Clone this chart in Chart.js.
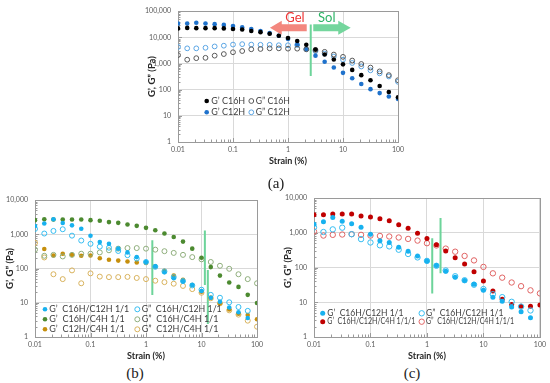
<!DOCTYPE html>
<html>
<head>
<meta charset="utf-8">
<script src="https://cdn.jsdelivr.net/npm/chart.js@4.4.1/dist/chart.umd.min.js"></script>
<style>
  html, body { margin: 0; padding: 0; background: #fff; }
  body { width: 550px; height: 383px; position: relative; overflow: hidden; }
  canvas { position: absolute; }
  .cap { position: absolute; font-family: 'Liberation Serif', serif; font-size: 15px; color: #222; transform: translate(-50%, -50%); }
</style>
</head>
<body>
<canvas id="chartA" width="270" height="166" style="left:140px;top:0px"></canvas>
<canvas id="chartB" width="270" height="176" style="left:0px;top:185px"></canvas>
<canvas id="chartC" width="275" height="176" style="left:275px;top:185px"></canvas>
<div class="cap" style="left:276px;top:183px">(a)</div>
<div class="cap" style="left:135px;top:373px">(b)</div>
<div class="cap" style="left:412px;top:373px">(c)</div>
<script>
// strain sweep (%), 6 points per decade
const strain = [0.01, 0.0147, 0.0215, 0.0316, 0.0464, 0.0681, 0.1, 0.147, 0.215, 0.316, 0.464, 0.681,
  1, 1.47, 2.15, 3.16, 4.64, 6.81, 10, 14.7, 21.5, 31.6, 46.4, 68.1, 100];
const xTickVals = [0.01, 0.1, 1, 10, 100];
const xTickLabels = ['0.01', '0.1', '1', '10', '100'];
const yTicksA = [1, 10, 100, 1000, 10000, 100000];
const yTicksBC = [1, 10, 100, 1000, 10000];

// (a) single gels
const gpC16 = [22000, 23000, 22500, 22500, 22500, 22000, 21000, 20000, 17500, 15800, 13700, 11500, 9500, 7300, 5200, 3400, 2200, 1420, 930, 570, 360, 230, 138, 82, 51];
const gppC16 = [2100, 1400, 1600, 1650, 2000, 2300, 2700, 3000, 3500, 3600, 3800, 3800, 3700, 3700, 3500, 3300, 2800, 2200, 1800, 1300, 960, 700, 500, 360, 230];
const gpC12 = [34000, 34000, 36000, 34000, 32000, 30000, 27000, 24000, 21000, 17500, 14500, 11500, 8700, 5200, 3600, 2000, 1170, 700, 440, 272, 165, 105, 74, 55, 44];
const gppC12 = [4300, 3800, 3800, 4000, 4500, 4800, 5300, 5500, 5300, 5200, 5200, 5000, 5000, 5100, 3500, 3000, 2400, 1850, 1400, 1050, 770, 550, 420, 320, 200];

// (b), (c) mixtures
const gpC16C12 = [1750, 2070, 2750, 2130, 1820, 1450, 900, 590, 525, 380, 295, 215, 155, 115, 78, 52, 42, 33, 22, 14, 10.7, 7.3, 5.3, 3.6, null];
const gppC16C12 = [1430, 1050, 1250, 1400, 910, 655, 525, 435, 405, 325, 245, 195, 155, 112, 82, 56, 43, 32, 24, 17, 14, 10.3, 7.5, 5.8, null];
const gpC16C4 = [2580, 2750, 2700, 2700, 2700, 2700, 2580, 2470, 2260, 2150, 1920, 1760, 1540, 1310, 1050, 830, 610, 380, 205, 110, 62, 39, 29, 17, 9.8];
const gppC16C4 = [355, 235, 250, 225, 250, 270, 270, 295, 340, 380, 395, 395, 380, 355, 320, 285, 250, 215, 185, 155, 120, 98, 68, 49, 37];
const gpC12C4 = [null, 370, 240, 270, 250, 235, 240, 200, 180, 170, 160, 150, 145, 115, 86, 62, 47, 33, 21, 14, 9.6, 6.4, 4.8, 4.4, 3.3];
const gppC12C4 = [560, 210, 68, 49, 88, 37, 72, 58, 56, 56, 57, 53, 49, 44, 40, 36, 31, 25, 19.6, 13.5, 9.6, 6.0, 4.5, 3.0, 2.0];
const gpC16C12C4 = [3300, 3300, 3450, 3450, 3450, 3020, 2820, 2530, 2220, 1690, 1350, 970, 680, 450, 300, 190, 126, 76, 41, 21, 12.2, 8.6, 7.7, 7.7, 8.3];
const gppC16C12C4 = [1090, 830, 870, 890, 910, 870, 830, 810, 780, 730, 665, 595, 500, 430, 350, 285, 215, 160, 104, 68, 51, 37, 29, 22, 18];

// gel-sol transition markers: [strain, top, bottom]
const markA = [[2.59, 31100, 330]];
const markB = [[1.30, 667, 16.8], [11.5, 1280, 33], [13.0, 91, 2.4]];
const markC = [[1.24, 697, 17.9], [1.74, 2640, 68]];
// arrows in (a): [tail, head base, tip] strain values
const gelArrow = [2.19, 0.77, 0.47];
const solArrow = [2.88, 8.2, 13.8];
const arrowLevel = 23500;
const arrowTextLevel = 56000;
const gelTextX = 1.34;
const solTextX = 5.06;

const FONT = 'Lato, sans-serif';

function series(vals) {
  return strain.map((x, i) => ({ x, y: vals[i] })).filter((p) => p.y != null);
}
function filled(label, vals, color, r) {
  return { label, data: series(vals), backgroundColor: color, borderColor: color, pointRadius: r, pointBorderWidth: 0, pointHoverRadius: r };
}
function hollow(label, vals, color, r) {
  return { label, data: series(vals), backgroundColor: 'rgba(0,0,0,0)', borderColor: color, pointRadius: r, pointBorderWidth: 1, pointHoverRadius: r };
}
function vline(m) {
  return { label: '', data: [{ x: m[0], y: m[1] }, { x: m[0], y: m[2] }], showLine: true, borderColor: '#6dd49a', borderWidth: 2, pointRadius: 0 };
}

function scalesFor(yTicks, yWidth, titlePad) {
  return {
    x: {
      type: 'logarithmic', min: 0.01, max: 100,
      afterBuildTicks: (s) => { s.ticks = xTickVals.map((v) => ({ value: v })); },
      afterFit: (s) => { s.height = 24; },
      ticks: { callback: (v, i) => xTickLabels[i], font: { family: FONT, size: 7 }, color: '#595959', padding: 4, maxRotation: 0, autoSkip: false },
      grid: { color: '#d9d9d9', drawTicks: false },
      border: { display: false },
      title: { display: true, text: 'Strain (%)', font: { family: FONT, size: 9, weight: 'bold' }, color: '#262626', padding: 0 },
    },
    y: {
      type: 'logarithmic', min: yTicks[0], max: yTicks[yTicks.length - 1],
      afterBuildTicks: (s) => { s.ticks = yTicks.map((v) => ({ value: v })); },
      afterFit: (s) => { s.width = yWidth; },
      ticks: { callback: (v) => Number(v).toLocaleString('en-US'), font: { family: FONT, size: 7 }, color: '#595959', padding: 7, autoSkip: false },
      grid: { color: '#d9d9d9', drawTicks: false },
      border: { display: false },
      title: { display: true, text: 'G\u2019, G\u201D (Pa)', font: { family: FONT, size: 9.5, weight: 'bold' }, color: '#262626', padding: { top: titlePad, bottom: 0 } },
    },
  };
}

// frame and inner minor ticks
const framePlugin = {
  id: 'frame',
  beforeDatasetsDraw(chart) {
    const { ctx, chartArea: a, scales } = chart;
    ctx.save();
    ctx.strokeStyle = '#9a9a9a';
    ctx.lineWidth = 1;
    ctx.strokeRect(Math.round(a.left) + 0.5, Math.round(a.top) + 0.5, Math.round(a.right - a.left), Math.round(a.bottom - a.top));
    ctx.beginPath();
    [scales.x, scales.y].forEach((s) => {
      const lo = Math.round(Math.log10(s.min));
      const hi = Math.round(Math.log10(s.max));
      for (let d = lo; d < hi; d++) {
        for (let k = 1; k <= 9; k++) {
          const len = k === 1 ? 4 : 2.5;
          const p = Math.round(s.getPixelForValue(k * Math.pow(10, d))) + 0.5;
          if (s.axis === 'x') { ctx.moveTo(p, a.bottom); ctx.lineTo(p, a.bottom - len); }
          else { ctx.moveTo(a.left, p); ctx.lineTo(a.left + len, p); }
        }
      }
    });
    ctx.stroke();
    ctx.restore();
  },
};

// legend placed inside the plot
const inLegend = {
  id: 'inLegend',
  afterDatasetsDraw(chart, args, opts) {
    if (!opts.items) return;
    const ctx = chart.ctx;
    ctx.save();
    ctx.font = opts.size + 'px ' + FONT;
    ctx.textBaseline = 'middle';
    opts.items.forEach((it) => {
      const ds = chart.data.datasets[it.ds];
      ctx.beginPath();
      ctx.arc(it.x, it.y, ds.pointRadius, 0, Math.PI * 2);
      if (ds.pointBorderWidth > 0) {
        ctx.strokeStyle = ds.borderColor; ctx.lineWidth = 1; ctx.stroke();
      } else {
        ctx.fillStyle = ds.backgroundColor; ctx.fill();
      }
      ctx.fillStyle = '#404040';
      ctx.fillText(ds.label, it.x + it.gap, it.y, opts.maxWidth);
    });
    ctx.restore();
  },
};

function drawArrow(ctx, xs, ys, arr, y, color) {
  const tail = xs.getPixelForValue(arr[0]);
  const base = xs.getPixelForValue(arr[1]);
  const tip = xs.getPixelForValue(arr[2]);
  const yy = ys.getPixelForValue(y);
  ctx.fillStyle = color;
  ctx.beginPath();
  ctx.moveTo(tail, yy - 3.5);
  ctx.lineTo(base, yy - 3.5);
  ctx.lineTo(base, yy - 7);
  ctx.lineTo(tip, yy);
  ctx.lineTo(base, yy + 7);
  ctx.lineTo(base, yy + 3.5);
  ctx.lineTo(tail, yy + 3.5);
  ctx.closePath();
  ctx.fill();
}

const gelSolPlugin = {
  id: 'gelSol',
  afterDatasetsDraw(chart) {
    const { ctx, scales: { x, y } } = chart;
    ctx.save();
    drawArrow(ctx, x, y, gelArrow, arrowLevel, '#f3877e');
    drawArrow(ctx, x, y, solArrow, arrowLevel, '#74d69d');
    ctx.font = '13px ' + FONT;
    ctx.textAlign = 'center';
    ctx.textBaseline = 'middle';
    ctx.fillStyle = '#ee3535';
    ctx.fillText('Gel', x.getPixelForValue(gelTextX), y.getPixelForValue(arrowTextLevel));
    ctx.fillStyle = '#2db466';
    ctx.fillText('Sol', x.getPixelForValue(solTextX), y.getPixelForValue(arrowTextLevel));
    ctx.restore();
  },
};

function makeChart(id, datasets, scales, padding, legend, extra) {
  return new Chart(document.getElementById(id), {
    type: 'scatter',
    data: { datasets },
    options: {
      responsive: false,
      animation: false,
      layout: { padding },
      scales,
      plugins: { legend: { display: false }, tooltip: { enabled: false }, inLegend: legend },
    },
    plugins: [framePlugin, inLegend].concat(extra || []),
  });
}

makeChart('chartA', [
  filled('G\u2019 C16H', gpC16, '#000000', 2.3),
  hollow('G\u201D C16H', gppC16, '#595959', 2.4),
  filled('G\u2019 C12H', gpC12, '#1f72cc', 2.3),
  hollow('G\u201D C12H', gppC12, '#5aa5e4', 2.4),
  ...markA.map(vline),
], scalesFor(yTicksA, 38, 6.3), { top: 7, right: 12, bottom: 0, left: 0 }, {
  size: 9.5,
  maxWidth: 34,
  items: [
    { ds: 0, x: 66.7, y: 101, gap: 4.5 }, { ds: 1, x: 111.3, y: 101, gap: 4.5 },
    { ds: 2, x: 66.7, y: 112.3, gap: 4.5 }, { ds: 3, x: 111.3, y: 112.3, gap: 4.5 },
  ],
}, [gelSolPlugin]);

makeChart('chartB', [
  filled('G\u2019  C16H/C12H 1/1', gpC16C12, '#17b1ef', 2.3),
  hollow('G\u201D  C16H/C12H 1/1', gppC16C12, '#35bdf1', 2.5),
  filled('G\u2019  C16H/C4H 1/1', gpC16C4, '#4c8a30', 2.3),
  hollow('G\u201D  C16H/C4H 1/1', gppC16C4, '#8fae7c', 2.5),
  filled('G\u2019  C12H/C4H 1/1', gpC12C4, '#c68f0c', 2.3),
  hollow('G\u201D  C12H/C4H 1/1', gppC12C4, '#d8b25c', 2.5),
  ...markB.map(vline),
], scalesFor(yTicksBC, 35, 4.6), { top: 15, right: 13, bottom: 0, left: 0 }, {
  size: 9,
  maxWidth: 80,
  items: [
    { ds: 0, x: 45, y: 124.3, gap: 4.3 }, { ds: 1, x: 137.3, y: 124.3, gap: 4.4 },
    { ds: 2, x: 45, y: 134.3, gap: 4.3 }, { ds: 3, x: 137.3, y: 134.3, gap: 4.4 },
    { ds: 4, x: 45, y: 144.3, gap: 4.3 }, { ds: 5, x: 137.3, y: 144.3, gap: 4.4 },
  ],
});

makeChart('chartC', [
  filled('G\u2019  C16H/C12H 1/1', gpC16C12, '#17b1ef', 2.5),
  hollow('G\u201D  C16H/C12H 1/1', gppC16C12, '#35bdf1', 2.7),
  filled('G\u2019  C16H/C12H/C4H 1/1/1', gpC16C12C4, '#c00000', 2.5),
  hollow('G\u201D  C16H/C12H/C4H 1/1/1', gppC16C12C4, '#e06464', 2.7),
  ...markC.map(vline),
], scalesFor(yTicksBC, 39, 6.9), { top: 13, right: 8, bottom: 0, left: 0 }, {
  size: 8.5,
  maxWidth: 88,
  items: [
    { ds: 0, x: 47.7, y: 128.3, gap: 4.6 }, { ds: 1, x: 146.7, y: 128.3, gap: 4.3 },
    { ds: 2, x: 47.7, y: 136.7, gap: 4.6 }, { ds: 3, x: 146.7, y: 136.7, gap: 4.3 },
  ],
});
</script>
</body>
</html>
